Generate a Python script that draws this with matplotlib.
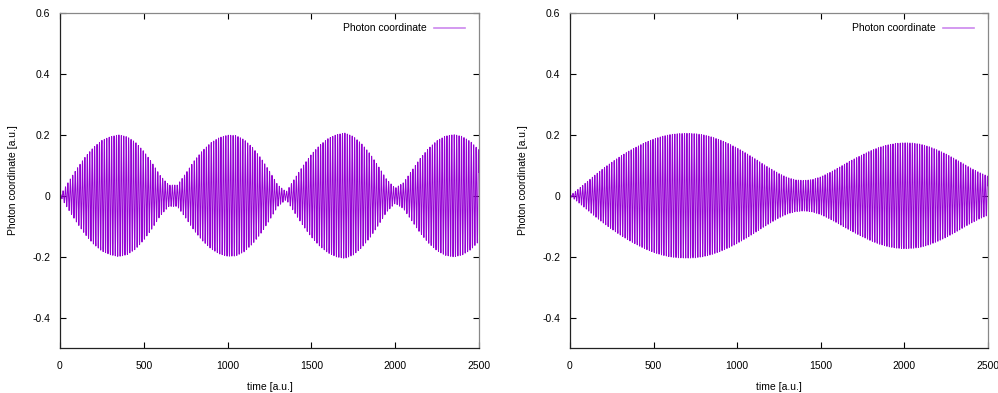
import numpy as np
import matplotlib
matplotlib.use("Agg")
import matplotlib.pyplot as plt

###### DATA ######

# envelope of the photon coordinate, every 50 a.u.
env_time = list(range(0, 2550, 50))

env_left = [0.000, 0.045, 0.088, 0.127, 0.159, 0.182, 0.194, 0.200, 0.194, 0.176,
            0.146, 0.108, 0.065, 0.035, 0.035, 0.073, 0.114, 0.148, 0.174, 0.191,
            0.199, 0.198, 0.184, 0.158, 0.123, 0.081, 0.035, 0.013, 0.056, 0.098,
            0.136, 0.166, 0.188, 0.201, 0.206, 0.195, 0.171, 0.138, 0.097, 0.053,
            0.025, 0.043, 0.083, 0.123, 0.156, 0.181, 0.196, 0.201, 0.195, 0.178,
            0.150]

env_right = [0.000, 0.022, 0.045, 0.068, 0.090, 0.110, 0.129, 0.146, 0.161, 0.175,
             0.186, 0.195, 0.201, 0.204, 0.205, 0.204, 0.200, 0.193, 0.183, 0.171,
             0.157, 0.141, 0.124, 0.106, 0.089, 0.073, 0.060, 0.052, 0.050, 0.053,
             0.062, 0.075, 0.090, 0.106, 0.121, 0.135, 0.148, 0.159, 0.167, 0.172,
             0.174, 0.173, 0.169, 0.161, 0.150, 0.137, 0.122, 0.106, 0.090, 0.076,
             0.064]

# carrier period of the fast oscillation [a.u.]
carrier_period = 14.5

x_ticks = [0, 500, 1000, 1500, 2000, 2500]
y_ticks = [-0.4, -0.2, 0, 0.2, 0.4, 0.6]
y_tick_labels = ["-0.4", "-0.2", "0", "0.2", "0.4", "0.6"]

###### STYLE ######

plt.rcParams['font.family'] = ['Liberation Sans', 'DejaVu Sans']
plt.rcParams['font.size'] = 7.5
line_color = '#9400d3'

fig = plt.figure(figsize=(9.98, 3.93), dpi=100)

t = np.arange(0, 2500.25, 0.25)


def draw_panel(ax, envelope):
    amp = np.interp(t, env_time, envelope)
    y = amp * np.sin(2 * np.pi * t / carrier_period)
    ax.plot(t, y, color=line_color, lw=0.7, label="Photon coordinate")

    ax.set_xlim(0, 2500)
    ax.set_ylim(-0.5, 0.6)
    ax.set_xticks(x_ticks)
    ax.set_yticks(y_ticks)
    ax.set_yticklabels(y_tick_labels)
    ax.tick_params(direction='in', top=True, right=True, length=4,
                   width=0.8, pad=9, colors='black')
    ax.tick_params(axis='y', pad=7)
    for side in ['left', 'bottom']:
        ax.spines[side].set_color('#222222')
        ax.spines[side].set_linewidth(0.9)
    for side in ['top', 'right']:
        ax.spines[side].set_color('#888888')
        ax.spines[side].set_linewidth(0.9)

    ax.set_xlabel("time [a.u.]", labelpad=8)
    ax.set_ylabel("Photon coordinate [a.u.]", labelpad=10)

    leg = ax.legend(loc='upper right', frameon=False, handlelength=3.0,
                    markerfirst=False, borderaxespad=0.9, handletextpad=0.7,
                    bbox_to_anchor=(1.0, 1.01))
    for h in leg.get_lines():
        h.set_color('#cc88ee')
        h.set_linewidth(1.2)


ax1 = fig.add_axes([0.0601, 0.1145, 0.4198, 0.8524])
draw_panel(ax1, env_left)

ax2 = fig.add_axes([0.5711, 0.1145, 0.4188, 0.8524])
draw_panel(ax2, env_right)

fig.savefig("out.png", dpi=100)
